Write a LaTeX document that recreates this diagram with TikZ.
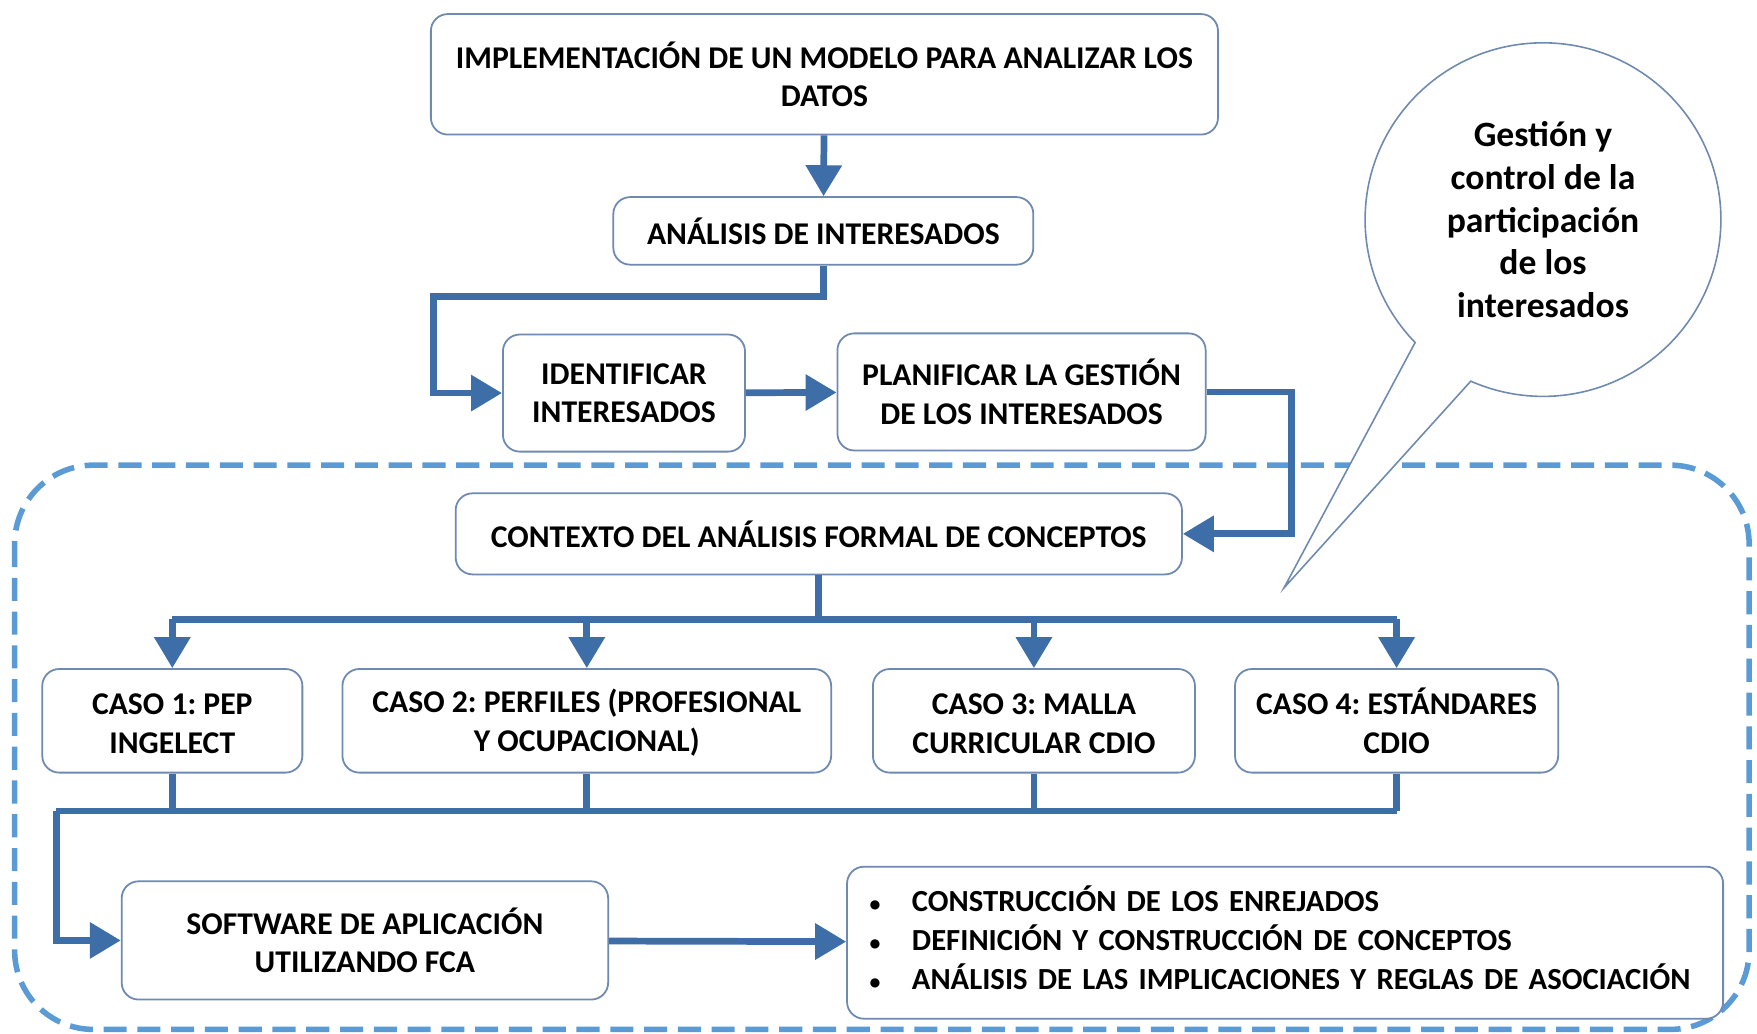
\documentclass[tikz,border=0pt]{standalone}
\usepackage{fontspec}
\setmainfont{Carlito}
\usetikzlibrary{arrows.meta,shapes.callouts}

\definecolor{flowblue}{RGB}{62,110,168}
\definecolor{dashblue}{RGB}{91,155,213}
\definecolor{boxline}{RGB}{110,138,176}

\tikzset{
  stepbox/.style={draw=boxline, fill=white, line width=0.9pt, rounded corners=0.3cm,
    align=center, inner sep=0pt, font=\fontsize{16}{19.5}\selectfont\bfseries\frenchspacing},
  flowline/.style={draw=flowblue, line width=3.4pt, line join=miter},
  flow/.style={flowline, -{Triangle[length=0.55cm,width=0.62cm]}},
}
\newcommand{\bul}{{\fontsize{11}{11}\selectfont •}}
\newcommand{\acc}{\vphantom{Á}}

\begin{document}
\begin{tikzpicture}[x=0.02cm,y=-0.02cm]
\useasboundingbox (0,0) rectangle (1560,918);

% dashed frame
\draw [dashblue, line width=2.8pt, dash pattern=on 0.41cm off 0.19cm, rounded corners=1.4cm]
  (13,413) rectangle (1553,914);

\node (top) at (732,66) [stepbox, minimum width=13.98cm, minimum height=2.14cm]
  {IMPLEMENTACIÓN DE UN MODELO PARA ANALIZAR LOS\\DATOS};
\node (ana) at (731,205) [stepbox, minimum width=7.46cm, minimum height=1.2cm]
  {ANÁLISIS DE INTERESADOS};
\node (ide) at (554,349) [stepbox, minimum width=4.3cm, minimum height=2.08cm]
  {IDENTIFICAR\\INTERESADOS};
\node (pla) at (907,348) [stepbox, minimum width=6.54cm, minimum height=2.08cm]
  {PLANIFICAR LA GESTIÓN\\DE LOS INTERESADOS};
\node (ctx) at (727,474) [stepbox, minimum width=12.9cm, minimum height=1.44cm]
  {CONTEXTO DEL ANÁLISIS FORMAL DE CONCEPTOS};

\node (c1) at (153,640) [stepbox, minimum width=4.62cm, minimum height=1.84cm]
  {\acc CASO 1: PEP\\INGELECT};
\node (c2) at (521,640) [stepbox, minimum width=8.68cm, minimum height=1.84cm]
  {\acc CASO 2: PERFILES (PROFESIONAL\\Y OCUPACIONAL)};
\node (c3) at (918,640) [stepbox, minimum width=5.72cm, minimum height=1.84cm]
  {\acc CASO 3: MALLA\\CURRICULAR CDIO};
\node (c4) at (1240,640) [stepbox, minimum width=5.74cm, minimum height=1.84cm]
  {CASO 4: ESTÁNDARES\\CDIO};

\node (sw) at (324,835) [stepbox, minimum width=8.64cm, minimum height=2.1cm]
  {SOFTWARE DE APLICACIÓN\\UTILIZANDO FCA};
\node (bul) at (1141,837) [stepbox, minimum width=15.56cm, minimum height=2.7cm,
  text width=14.76cm, inner xsep=0.4cm, align=left,
  font=\fontsize{15.5}{19.5}\selectfont\bfseries\frenchspacing]
  {\begin{tabular}{@{}l@{\hspace{0.56cm}}l@{}}
   \bul & CONSTRUCCIÓN DE LOS ENREJADOS\\
   \bul & DEFINICIÓN Y CONSTRUCCIÓN DE CONCEPTOS\\
   \bul & ANÁLISIS DE LAS IMPLICACIONES Y REGLAS DE ASOCIACIÓN
   \end{tabular}};

\node (gest) at (1370,195) [ellipse callout, draw=boxline, line width=0.8pt, fill=white,
  minimum width=6.32cm, minimum height=6.28cm, inner sep=0pt, align=center,
  callout absolute pointer={(1140,522)}, callout pointer arc=22,
  font=\fontsize{18}{21.5}\selectfont\bfseries]
  {Gestión y\\control de la\\participación\\de los\\interesados};

\coordinate (k1) at (385,263);
\coordinate (k2) at (1147,474);
\coordinate (j1) at (728,550);
\coordinate (j2) at (50,720);

\draw [flow] (top) -- (ana);
\draw [flow] (ana.south) -- (ana.south |- k1) -- (k1) |- (ide.west);
\draw [flow] (ide) -- (pla);
\draw [flow] (pla.east) -| (k2) -- (ctx.east);

\draw [flowline] (ctx.south) -- (ctx.south |- j1);
\draw [flowline] (c1.north |- j1) -- (c4.north |- j1);
\foreach \c in {c1,c2,c3,c4}
  \draw [flow] (\c.north |- j1) -- (\c.north);

\foreach \c in {c1,c2,c3,c4}
  \draw [flowline] (\c.south) -- (\c.south |- j2);
\draw [flowline] (j2) -- (c4.south |- j2);
\draw [flow] (j2) |- (sw.west);
\draw [flow] (sw) -- (bul);

\end{tikzpicture}
\end{document}
